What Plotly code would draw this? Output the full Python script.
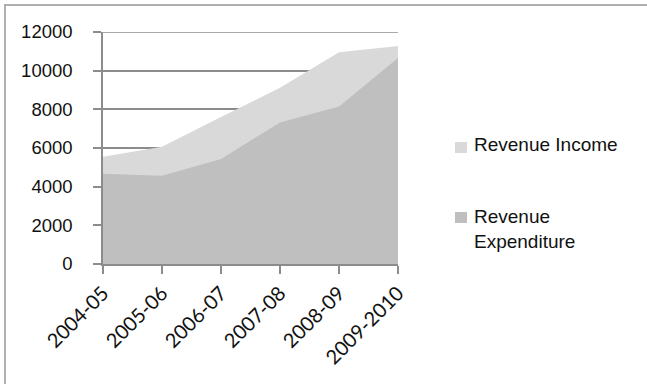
import plotly.graph_objects as go

# Financial years on the category axis
years = ["2004-05", "2005-06", "2006-07", "2007-08", "2008-09", "2009-2010"]

# Amounts per year
revenue_income = [5550, 6070, 7600, 9120, 10950, 11280]
revenue_expenditure = [4670, 4570, 5430, 7320, 8150, 10660]

y_ticks = [0, 2000, 4000, 6000, 8000, 10000, 12000]

income_color = "#d9d9d9"
expenditure_color = "#bfbfbf"
axis_gray = "#8c8c8c"

# Plot area in pixels (used to convert legend/frame positions to paper units)
W, H = 647, 384
L, R, T, B = 103, 398, 32, 264


def px_x(p):
    return (p - L) / (R - L)


def px_y(p):
    return (B - p) / (B - T)


fig = go.Figure()

fig.add_trace(go.Scatter(
    x=years, y=revenue_income, name="Revenue Income",
    mode="lines", line=dict(width=0, color=income_color),
    fill="tozeroy", fillcolor=income_color, showlegend=False,
    hoverinfo="x+y+name",
))
fig.add_trace(go.Scatter(
    x=years, y=revenue_expenditure, name="Revenue Expenditure",
    mode="lines", line=dict(width=0, color=expenditure_color),
    fill="tozeroy", fillcolor=expenditure_color, showlegend=False,
    hoverinfo="x+y+name",
))

shapes = []
annotations = []

# Top gridline sits on the edge of the range, so draw it beneath the areas
shapes.append(dict(type="line", xref="paper", yref="y", layer="below",
                   x0=0, x1=1, y0=y_ticks[-1], y1=y_ticks[-1],
                   line=dict(color=axis_gray, width=1.5)))

# Legend swatches and labels
legend_items = [
    (income_color, 147.5, "Revenue Income", 144),
    (expenditure_color, 217.5, "Revenue<br>Expenditure", 229),
]
for color, sq_cy, text, text_cy in legend_items:
    shapes.append(dict(
        type="rect", xref="paper", yref="paper",
        x0=px_x(455), x1=px_x(467), y0=px_y(sq_cy + 5.5), y1=px_y(sq_cy - 5.5),
        fillcolor=color, line=dict(width=0),
    ))
    annotations.append(dict(
        xref="paper", yref="paper", x=px_x(472), y=px_y(text_cy),
        text=text, showarrow=False, xanchor="left", yanchor="middle",
        align="left",
        font=dict(family="Liberation Sans, Arial", size=19, color="#111111"),
    ))

# Chart frame (top and left edges)
shapes.append(dict(type="line", xref="paper", yref="paper",
                   x0=px_x(4), x1=px_x(W), y0=px_y(5), y1=px_y(5),
                   line=dict(color="#b0b0b0", width=2)))
shapes.append(dict(type="line", xref="paper", yref="paper",
                   x0=px_x(5), x1=px_x(5), y0=px_y(5), y1=px_y(H),
                   line=dict(color="#b0b0b0", width=2)))

fig.update_layout(
    width=W, height=H,
    margin=dict(l=L, r=W - R, t=T, b=H - B),
    paper_bgcolor="white", plot_bgcolor="white",
    showlegend=False,
    shapes=shapes, annotations=annotations,
    xaxis=dict(
        type="category", range=[0, len(years) - 1],
        showgrid=False, zeroline=False,
        showline=True, linecolor=axis_gray, linewidth=1.5,
        ticks="outside", ticklen=8, tickcolor=axis_gray, tickwidth=1.5,
        tickangle=-45,
        tickfont=dict(family="Lato, Open Sans", size=20, color="#111111"),
    ),
    yaxis=dict(
        range=[y_ticks[0], y_ticks[-1]],
        tickmode="array", tickvals=y_ticks, ticktext=[str(v) for v in y_ticks],
        showgrid=True, gridcolor=axis_gray, gridwidth=1.5,
        zeroline=False,
        showline=True, linecolor=axis_gray, linewidth=1.5,
        ticks="outside", ticklen=8, tickcolor=axis_gray, tickwidth=1.5,
        ticklabelstandoff=17,
        tickfont=dict(family="Liberation Sans, Arial", size=18.5, color="#111111"),
    ),
)

fig.write_html("out.html")
